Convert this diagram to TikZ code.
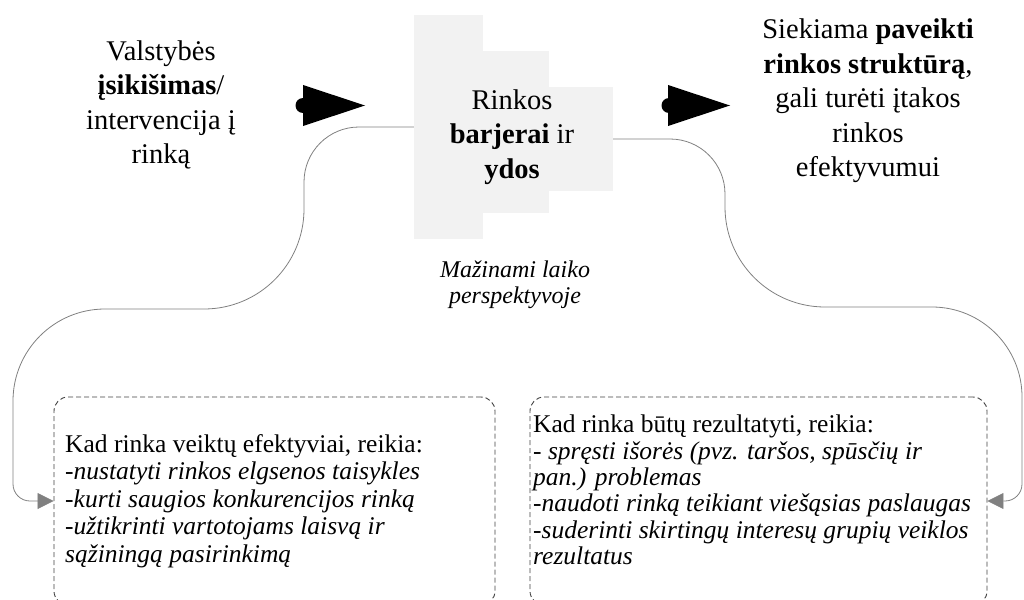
\documentclass[tikz,border=0pt]{standalone}
\usepackage{fontspec}
\setmainfont{Liberation Serif}[
  BoldFont={Liberation Serif Bold},
  ItalicFont={Liberation Serif Italic},
  BoldItalicFont={Liberation Serif Bold Italic}]
\usetikzlibrary{arrows.meta}

\definecolor{barfill}{HTML}{F2F2F2}
\definecolor{linkgray}{HTML}{808080}
\definecolor{framegray}{HTML}{404040}

\tikzset{
  bigtext/.style={inner sep=0pt, align=center, font=\fontsize{28.5}{34.5}\selectfont},
  notetext/.style={inner sep=0pt, align=center, font=\fontsize{24}{26}\selectfont\itshape},
  listtext/.style={inner sep=0pt, align=left, anchor=west, font=\fontsize{25.5}{27.5}\selectfont},
  barpart/.style={fill=barfill, draw=none, inner sep=0pt},
  listbox/.style={draw=framegray, line width=0.9pt, dash pattern=on 5pt off 3pt,
    rounded corners=14pt, inner sep=0pt, minimum height=208pt},
  link/.style={draw=linkgray, line width=0.8pt,
    -{Triangle[length=16pt,width=16pt,fill=linkgray]}},
  flowarrow/.style={fill=black},
}

\begin{document}
\begin{tikzpicture}[x=1pt,y=-1pt]
\useasboundingbox (0,0) rectangle (1024,599);

% stepped grey block
\node[barpart, minimum width=69pt, minimum height=224pt] (bar1) at (448.5,127) {};
\node[barpart, minimum width=66pt, minimum height=162pt] (bar2) at (516,132) {};
\node[barpart, minimum width=64pt, minimum height=104pt] (bar3) at (581,139) {};

% main texts
\node[bigtext] (state) at (161,105)
  {Valstybės\\\textbf{įsikišimas}/\\intervencija į\\rinką};
\node[bigtext] (barriers) at (512,137)
  {Rinkos\\\textbf{barjerai} ir\\\textbf{ydos}};
\node[bigtext] (aim) at (868,101)
  {Siekiama \textbf{paveikti}\\\textbf{rinkos struktūrą},\\gali turėti įtakos\\rinkos\\efektyvumui};
\node[notetext] (note) at (515,285) {Mažinami laiko\\perspektyvoje};

% black flow arrows
\fill[flowarrow] (303,105.5) circle (7.5) (303,85) -- (365,105.5) -- (303,126) -- cycle;
\fill[flowarrow] (669,105.5) circle (7.5) (668,85) -- (730,105.5) -- (668,126) -- cycle;

% dashed boxes
\node[listbox, minimum width=441pt] (lbox) at (274.5,501) {};
\node[listbox, minimum width=457pt] (rbox) at (758.5,501) {};

\node[listtext] (ltext) at (65,501)
  {Kad rinka veiktų efektyviai, reikia:\\
   \textit{-nustatyti rinkos elgsenos taisykles}\\
   \textit{-kurti saugios konkurencijos rinką}\\
   \textit{-užtikrinti vartotojams laisvą ir}\\
   \textit{sąžiningą pasirinkimą}};
\node[listtext, font=\fontsize{25.5}{26.4}\selectfont] (rtext) at (533,490)
  {Kad rinka būtų rezultatyti, reikia:\\
   \textit{- spręsti išorės (pvz. taršos, spūsčių ir}\\
   \textit{pan.) problemas}\\
   \textit{-naudoti rinką teikiant viešąsias paslaugas}\\
   \textit{-suderinti skirtingų interesų grupių veiklos}\\
   \textit{rezultatus}};

% curved links from the grey block to the boxes
\draw[link] (bar1.west) -- (359,127)
  .. controls (328.6,127) and (304,151.6) .. (304,182)
  -- (304,209)
  .. controls (304,264.2) and (259.2,309) .. (204,309)
  -- (105,309)
  .. controls (54.2,309) and (13,350.2) .. (13,401)
  -- (13,484)
  .. controls (13,493.4) and (20.6,501) .. (30,501)
  -- (lbox.west);
\draw[link] (bar3.east) -- (670,139)
  .. controls (700.4,139) and (725,163.6) .. (725,194)
  -- (725,207)
  .. controls (725,262.2) and (769.8,307) .. (825,307)
  -- (932,307)
  .. controls (981.7,307) and (1022,347.3) .. (1022,397)
  -- (1022,484)
  .. controls (1022,493.4) and (1014.4,501) .. (1005,501)
  -- (rbox.east);
\end{tikzpicture}
\end{document}
